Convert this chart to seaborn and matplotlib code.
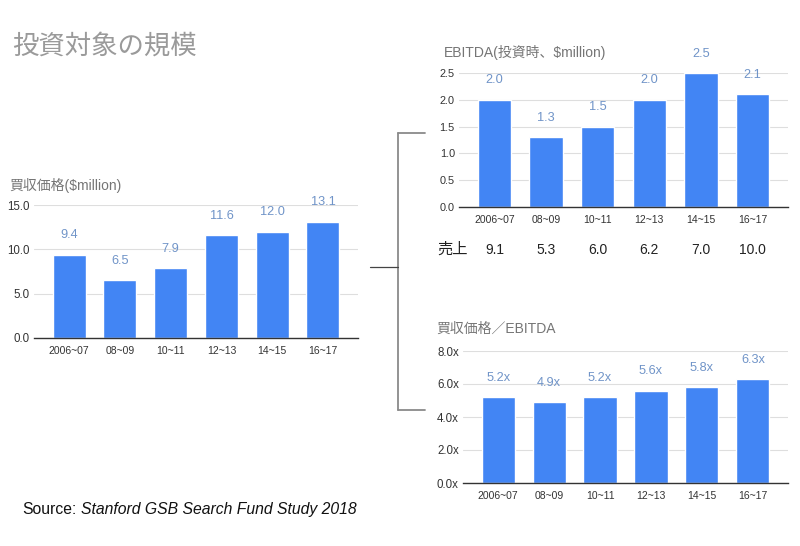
import matplotlib
matplotlib.use("Agg")
import matplotlib.pyplot as plt
import seaborn as sns
import pandas as pd
from matplotlib.lines import Line2D

# データ
periods = ["2006~07", "08~09", "10~11", "12~13", "14~15", "16~17"]
price = [9.4, 6.5, 7.9, 11.6, 12.0, 13.1]          # 買収価格 ($million)
ebitda = [2.0, 1.3, 1.5, 2.0, 2.5, 2.1]            # EBITDA ($million)
multiple = [5.2, 4.9, 5.2, 5.6, 5.8, 6.3]          # 買収価格／EBITDA
sales = ["9.1", "5.3", "6.0", "6.2", "7.0", "10.0"]  # 売上

price_ticks = [0, 5, 10, 15]
ebitda_ticks = [0, 0.5, 1.0, 1.5, 2.0, 2.5]
multiple_ticks = [0, 2, 4, 6, 8]

sns.set_theme(style="white")
plt.rcParams["font.family"] = ["Liberation Sans", "Noto Sans CJK JP", "DejaVu Sans"]

BAR = "#4285F4"
LABEL = "#7094c8"
TITLE = "#757575"
TICK = "#333333"

W, H = 800, 546

fig = plt.figure(figsize=(8, 5.46), dpi=100)
fig.patch.set_facecolor("white")


def fx(px):
    return px / W


def fy(py):
    return 1 - py / H


def bar_panel(box, values, ticks, fmt, tick_fmt, ylim, title, title_xy, ysize):
    left, top, right, bottom = box
    ax = fig.add_axes([fx(left), fy(bottom), (right - left) / W, (bottom - top) / H])
    df = pd.DataFrame({"period": periods, "value": values})
    sns.barplot(data=df, x="period", y="value", color=BAR, saturation=1,
                width=0.65, ax=ax)
    ax.set_xlim(-0.69, 5.69)
    ax.set_ylim(*ylim)
    ax.set_yticks(ticks)
    ax.set_yticklabels([tick_fmt.format(t) for t in ticks])
    ax.set_xlabel("")
    ax.set_ylabel("")
    ax.yaxis.grid(True, color="#dedede", lw=0.8)
    ax.set_axisbelow(True)
    for s in ["top", "right", "left"]:
        ax.spines[s].set_visible(False)
    ax.spines["bottom"].set_color("#333333")
    ax.spines["bottom"].set_linewidth(1.0)
    ax.tick_params(axis="both", length=0, colors=TICK)
    ax.tick_params(axis="x", pad=6, labelsize=7.5)
    ax.tick_params(axis="y", pad=3, labelsize=ysize)
    for i, v in enumerate(values):
        ax.annotate(fmt.format(v), (i, v), xytext=(0, 14), textcoords="offset points",
                    ha="center", va="center", fontsize=9.2, color=LABEL)
    fig.text(title_xy[0], title_xy[1], title, fontsize=10, color=TITLE,
             ha="left", va="center")
    return ax


ax1 = bar_panel((34, 205, 358, 338), price, price_ticks, "{:.1f}", "{:.1f}", (0, 15),
                "買収価格($million)", (fx(9), fy(185)), 8.3)

ax2 = bar_panel((459, 73, 788, 207), ebitda, ebitda_ticks, "{:.1f}", "{:.1f}", (0, 2.5),
                "EBITDA(投資時、$million)", (fx(444), fy(52)), 7.8)

ax3 = bar_panel((463, 351, 788, 483), multiple, multiple_ticks, "{:.1f}x", "{:.1f}x", (0, 8),
                "買収価格／EBITDA", (fx(436), fy(329)), 8.3)

# 売上の行
trans = ax2.get_xaxis_transform()
for i, s in enumerate(sales):
    ax2.text(i, (207 - 250) / (207 - 73), s, transform=trans, ha="center", va="center",
             fontsize=10, color="#222222")
fig.text(fx(437), fy(250), "売上", fontsize=11, color="#222222", ha="left", va="center")

# 見出し
fig.text(fx(12), fy(46), "投資対象の規模", fontsize=19, color="#9a9a9a",
         ha="left", va="center")

# 出典
src = fig.text(fx(22), fy(514), "Source:", fontsize=11.3, color="#111111",
               ha="left", va="baseline")
fig.canvas.draw()
src_right = src.get_window_extent().x1 / W
fig.text(src_right + 5 / W, fy(514), "Stanford GSB Search Fund Study 2018", fontsize=11.3,
         color="#111111", style="italic", ha="left", va="baseline")

# 括弧線
bracket = dict(color="#8a8a8a", lw=1.3, transform=fig.transFigure)
fig.add_artist(Line2D([fx(398), fx(398)], [fy(133), fy(410)], **bracket))
fig.add_artist(Line2D([fx(398), fx(425)], [fy(133), fy(133)], **bracket))
fig.add_artist(Line2D([fx(398), fx(425)], [fy(410), fy(410)], **bracket))
fig.add_artist(Line2D([fx(370), fx(398)], [fy(267), fy(267)], color="#444444", lw=0.9,
                      transform=fig.transFigure))

fig.savefig("out.png", dpi=100, facecolor="white")
